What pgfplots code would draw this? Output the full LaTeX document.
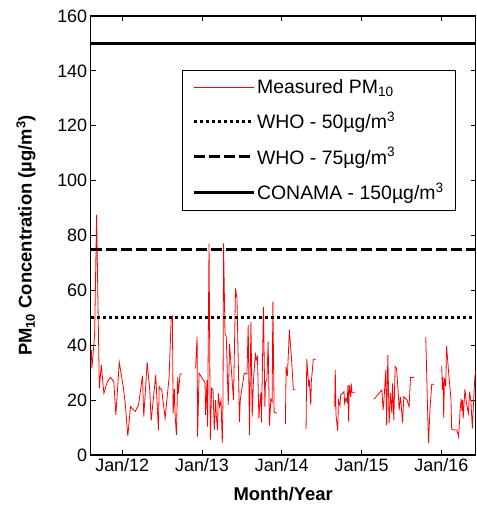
\documentclass[border=0pt]{standalone}
\usepackage{fontspec}
\setmainfont{Liberation Sans}
\usepackage{pgfplots}
\pgfplotsset{compat=1.18}

\begin{document}
\begin{tikzpicture}
\useasboundingbox (-90.7bp,-52bp) rectangle (386.3bp,455bp);
\begin{axis}[
  at={(0,0)}, anchor=south west,
  scale only axis, width=385bp, height=439bp,
  xmin=2011.605, xmax=2016.43, ymin=0, ymax=160,
  xtick={2012,2013,2014,2015,2016},
  xticklabels={Jan/12,Jan/13,Jan/14,Jan/15,Jan/16},
  ytick={0,20,...,160},
  tick align=inside, major tick length=5bp,
  every tick/.style={black, line width=0.8bp},
  axis line style={line width=1.3bp},
  /pgf/number format/assume math mode=true,
  tick label style={font=\fontsize{18}{20}\selectfont},
  label style={font=\bfseries\fontsize{18.5}{20}\selectfont},
  xlabel={Month/Year},
  ylabel={PM\textsubscript{10} Concentration (µg/m\textsuperscript{3})},
  xlabel style={at={(axis description cs:0.5,-0.089)}, anchor=center},
  ylabel style={at={(axis description cs:-0.168,0.5)}, anchor=center},
  unbounded coords=jump,
  legend cell align=left,
  legend image code/.code={\draw[#1] (0bp,0bp) -- (60bp,0bp);},
  legend style={at={(rel axis cs:0.949,0.877)}, anchor=north east,
    font=\fontsize{19.5}{22}\selectfont, draw=black, line width=0.8bp,
    row sep=13bp, inner xsep=10bp, inner ysep=7bp},
]
\addplot[red, line width=0.8bp] coordinates {
  (2011.613,38.3) (2011.620,31.6) (2011.654,43.7) (2011.679,87.5)
  (2011.713,24.3) (2011.738,32.8) (2011.770,22.5) (2011.813,26.7)
  (2011.854,28.3) (2011.895,26.7) (2011.920,14.6) (2011.963,33.8)
  (2012.013,24.9) (2012.038,18.8) (2012.070,6.9) (2012.104,17.6)
  (2012.163,15.8) (2012.204,18.2) (2012.254,28.9) (2012.270,14.0)
  (2012.313,33.8) (2012.345,23.7) (2012.363,12.5) (2012.420,29.2)
  (2012.454,9.0) (2012.463,24.9) (2012.495,23.7) (2012.538,13.4)
  (2012.588,28.5) (2012.613,49.2) (2012.629,50.4) (2012.638,15.2)
  (2012.654,24.0) (2012.663,14.6) (2012.679,7.3) (2012.696,28.5)
  (2012.704,22.5) (2012.725,29.5) (2012.750,29.5)
  (2012.8,nan)
  (2012.920,31.6) (2012.938,43.1) (2012.945,6.7) (2012.963,29.8)
  (2013.004,27.9) (2013.038,26.3) (2013.045,14.6) (2013.063,27.3)
  (2013.070,10.3) (2013.088,77.1) (2013.104,5.5) (2013.120,24.3)
  (2013.138,23.7) (2013.154,9.1) (2013.170,20.0) (2013.180,14.0)
  (2013.195,9.1) (2013.204,22.5) (2013.220,17.6) (2013.238,20.0)
  (2013.254,4.3) (2013.263,20.0) (2013.270,77.1) (2013.288,44.3)
  (2013.304,43.1) (2013.329,18.2) (2013.345,40.5) (2013.395,20.0)
  (2013.420,60.7) (2013.438,57.1) (2013.470,12.1) (2013.479,20.0)
  (2013.529,29.8) (2013.563,29.5) (2013.579,47.4) (2013.595,7.3)
  (2013.613,48.6) (2013.629,14.0) (2013.645,27.3) (2013.670,37.3)
  (2013.679,34.6) (2013.695,35.8) (2013.713,13.4) (2013.720,17.0)
  (2013.738,22.7) (2013.745,11.8) (2013.770,54.0) (2013.788,17.6)
  (2013.795,26.7) (2013.813,27.3) (2013.829,41.3) (2013.845,10.7)
  (2013.863,20.4) (2013.879,19.4) (2013.888,55.9) (2013.904,15.6)
  (2013.938,15.2)
  (2014.0,nan)
  (2014.045,11.3) (2014.054,32.2) (2014.070,28.8) (2014.095,45.6)
  (2014.104,41.9) (2014.120,35.8) (2014.145,23.9) (2014.170,23.7)
  (2014.2,nan)
  (2014.304,9.4) (2014.313,34.9) (2014.338,24.9) (2014.345,27.3)
  (2014.363,18.2) (2014.370,26.7) (2014.395,34.9) (2014.429,34.9)
  (2014.5,nan)
  (2014.663,17.6) (2014.670,31.0) (2014.679,14.6) (2014.700,8.9)
  (2014.710,20.0) (2014.729,17.9) (2014.738,21.9) (2014.763,22.5)
  (2014.779,23.1) (2014.788,18.8) (2014.804,20.7) (2014.820,19.4)
  (2014.829,25.5) (2014.838,12.1) (2014.845,25.5) (2014.863,21.2)
  (2014.870,26.1) (2014.879,22.7) (2014.916,22.7)
  (2015.0,nan)
  (2015.154,20.3) (2015.254,23.7) (2015.270,16.4) (2015.279,19.4)
  (2015.304,31.0) (2015.313,10.9) (2015.329,36.4) (2015.345,11.6)
  (2015.363,22.5) (2015.379,15.2) (2015.388,26.1) (2015.404,12.8)
  (2015.420,32.2) (2015.438,31.6) (2015.463,21.0) (2015.470,16.4)
  (2015.488,21.2) (2015.513,11.8) (2015.529,21.2) (2015.570,20.0)
  (2015.595,17.6) (2015.613,28.3) (2015.654,28.3)
  (2015.7,nan)
  (2015.804,43.0) (2015.838,4.3) (2015.858,17.0) (2015.879,25.8)
  (2015.913,25.8)
  (2015.95,nan)
  (2016.004,32.6) (2016.013,23.7) (2016.020,28.5) (2016.029,13.4)
  (2016.038,27.9) (2016.054,24.9) (2016.065,39.7) (2016.088,31.0)
  (2016.120,20.3) (2016.129,9.4) (2016.163,9.1) (2016.195,9.1)
  (2016.216,6.6) (2016.235,16.4) (2016.248,20.5) (2016.258,16.1)
  (2016.266,20.0) (2016.273,13.4) (2016.295,23.9) (2016.313,19.1)
  (2016.338,15.2) (2016.354,23.1) (2016.370,19.4) (2016.388,9.7)
  (2016.404,20.0) (2016.420,28.5) (2016.429,30.5)
};
\addlegendentry{Measured PM\textsubscript{10}}
\addplot[black, line width=3bp, dash pattern=on 3bp off 3bp]
  coordinates {(2011.605,50) (2016.43,50)};
\addlegendentry{WHO - 50µg/m\textsuperscript{3}}
\addplot[black, line width=2.8bp, dash pattern=on 11bp off 4bp]
  coordinates {(2011.605,75) (2016.43,75)};
\addlegendentry{WHO - 75µg/m\textsuperscript{3}}
\addplot[black, line width=2.8bp]
  coordinates {(2011.605,150) (2016.43,150)};
\addlegendentry{CONAMA - 150µg/m\textsuperscript{3}}
\end{axis}
\end{tikzpicture}
\end{document}
